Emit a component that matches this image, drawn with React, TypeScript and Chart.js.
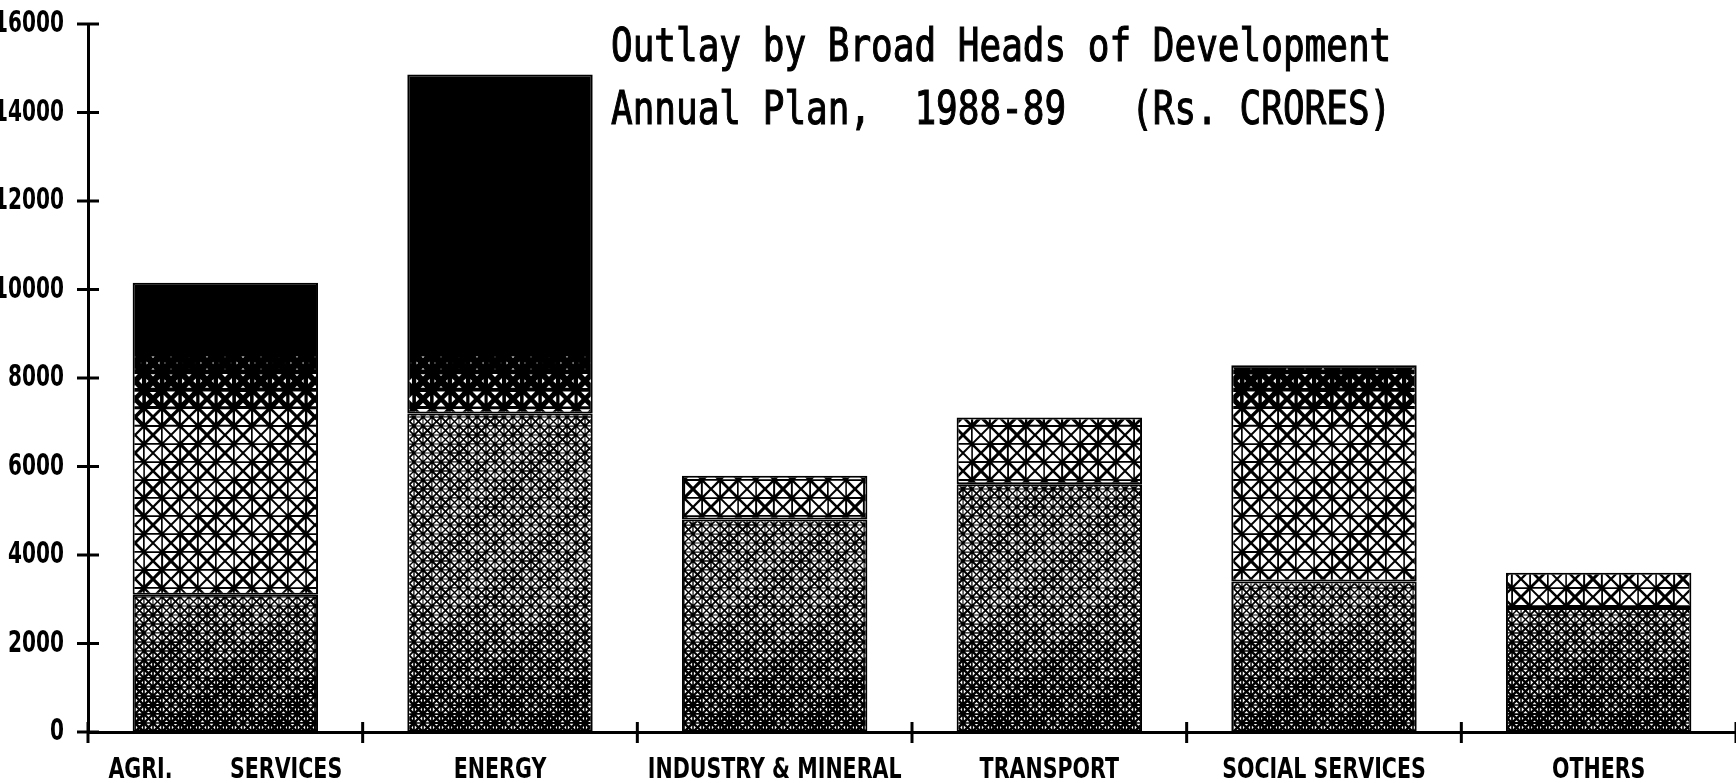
import React, { useEffect, useRef } from "react";
import { Chart, registerables } from "chart.js";

Chart.register(...registerables);

const categories = [
  "AGRI.        SERVICES",
  "ENERGY",
  "INDUSTRY & MINERAL",
  "TRANSPORT",
  "SOCIAL SERVICES",
  "OTHERS",
];
// lower (finer-pattern) part of each bar and upper (coarse lattice) part, Rs. crores
const lowerPart = [3100, 7200, 4800, 5600, 3400, 2800];
const upperPart = [7050, 7660, 990, 1510, 4890, 800];
const yTickValues = [0, 2000, 4000, 6000, 8000, 10000, 12000, 14000, 16000];
const yTickLabels = ["0", "2000", "4000", "6000", "8000", "10000", "12000", "14000", "16000"];
const titleLines = [
  "Outlay by Broad Heads of Development",
  "Annual Plan,  1988-89   (Rs. CRORES)",
];

const LABEL_FONT = '"DejaVu Sans", "Liberation Sans", sans-serif';
const TITLE_FONT = '"DejaVu Sans Mono", "Liberation Mono", monospace';

function holeLower(v: number): number {
  if (v > 3000) return 0.62;
  if (v > 1500) return 0.5 + 0.12 * (v - 1500) / 1500;
  return 0.38 + 0.12 * Math.max(0, v) / 1500;
}
function holeUpper(v: number): number {
  if (v > 8800) return 0;
  if (v > 7000) return 0.7 * Math.pow((8800 - v) / 1800, 1.4);
  return 0.7;
}

const cache: Record<string, { key: string; pattern: any }> = {};

function drawCell(g: CanvasRenderingContext2D, x0: number, y0: number, C: number, s: number) {
  const M = [x0 + C / 2, y0 + C / 2];
  const corners = [
    [x0, y0],
    [x0 + C, y0],
    [x0 + C, y0 + C],
    [x0, y0 + C],
  ];
  for (let k = 0; k < 4; k++) {
    const a = corners[k];
    const b = corners[(k + 1) % 4];
    const gx = (a[0] + b[0] + M[0]) / 3;
    const gy = (a[1] + b[1] + M[1]) / 3;
    g.beginPath();
    [a, b, M].forEach((p, i) => {
      const px = gx + (p[0] - gx) * s;
      const py = gy + (p[1] - gy) * s;
      if (i === 0) g.moveTo(px, py);
      else g.lineTo(px, py);
    });
    g.closePath();
    g.fill();
  }
}

function barPattern(chart: any, kind: "lower" | "upper"): any {
  const area = chart.chartArea;
  const ys = chart.scales && chart.scales.y;
  if (!area || !ys) return "#111";
  const W = Math.max(1, Math.round(chart.width));
  const H = Math.max(1, Math.round(chart.height));
  const key = `${W}x${H}:${area.top}:${area.bottom}`;
  const entry = cache[kind];
  if (entry && entry.key === key && entry.pattern) return entry.pattern;
  const c = document.createElement("canvas");
  c.width = W;
  c.height = H;
  const g = c.getContext("2d")!;
  g.fillStyle = "#000";
  g.fillRect(0, 0, W, H);
  g.fillStyle = "#fff";
  const C = 18;
  let row = 0;
  for (let y0 = area.bottom - C; y0 > -C; y0 -= C, row++) {
    const v = ys.getValueForPixel(y0 + C / 2);
    let col = 0;
    for (let x0 = 0; x0 < W; x0 += C, col++) {
      const jitter = (((row * 7 + col * 13) % 5) - 2) * 0.035;
      let s = kind === "lower" ? holeLower(v) : holeUpper(v);
      if (s <= 0.02) continue;
      s = Math.max(0, Math.min(0.8, s + jitter));
      if (kind === "lower") {
        const h = C / 2;
        drawCell(g, x0, y0, h, s);
        drawCell(g, x0 + h, y0, h, s * 0.9);
        drawCell(g, x0, y0 + h, h, s * 0.95);
        drawCell(g, x0 + h, y0 + h, h, s);
      } else {
        drawCell(g, x0, y0, C, s);
      }
    }
  }
  const p = chart.ctx.createPattern(c, "no-repeat");
  cache[kind] = { key, pattern: p || "#111" };
  return cache[kind].pattern;
}

const axisDecorPlugin = {
  id: "axisDecor",
  afterDraw(chart: any) {
    const { ctx, scales } = chart;
    const x = scales.x;
    const y = scales.y;
    ctx.save();
    ctx.strokeStyle = "#000";
    ctx.fillStyle = "#000";
    ctx.lineWidth = 3;
    const ax = chart.chartArea.left;
    ctx.font = `bold 30px ${LABEL_FONT}`;
    ctx.textAlign = "right";
    ctx.textBaseline = "alphabetic";
    yTickValues.forEach((val, i) => {
      const py = y.getPixelForValue(val);
      ctx.beginPath();
      ctx.moveTo(ax - 11, py);
      ctx.lineTo(ax + 11, py);
      ctx.stroke();
      ctx.save();
      ctx.translate(64, py + 8);
      ctx.scale(0.67, 1);
      ctx.fillText(yTickLabels[i], 0, 0);
      ctx.restore();
    });
    const n = categories.length;
    const base = y.getPixelForValue(0);
    for (let i = 0; i <= n; i++) {
      const px = x.left + (i * (x.right - x.left)) / n;
      ctx.beginPath();
      ctx.moveTo(px, base - 10);
      ctx.lineTo(px, base + 11);
      ctx.stroke();
    }
    ctx.font = `bold 29px ${LABEL_FONT}`;
    ctx.textAlign = "center";
    categories.forEach((lab, i) => {
      const px = x.getPixelForValue(i);
      ctx.save();
      ctx.translate(px, base + 46);
      ctx.scale(0.71, 1);
      ctx.fillText(lab, 0, 0);
      ctx.restore();
    });
    ctx.restore();
  },
};

const titlePlugin = {
  id: "stretchedTitle",
  afterDraw(chart: any) {
    const ctx = chart.ctx;
    ctx.save();
    ctx.fillStyle = "#000";
    ctx.strokeStyle = "#000";
    ctx.lineWidth = 0.9;
    ctx.font = `36px ${TITLE_FONT}`;
    ctx.textAlign = "left";
    ctx.textBaseline = "alphabetic";
    const baselines = [61, 124];
    titleLines.forEach((line, i) => {
      ctx.save();
      ctx.translate(611, baselines[i]);
      ctx.scale(1, 1.27);
      ctx.fillText(line, 0, 0);
      ctx.strokeText(line, 0, 0);
      ctx.restore();
    });
    ctx.restore();
  },
};

export default function App() {
  const ref = useRef<HTMLCanvasElement | null>(null);
  useEffect(() => {
    if (!ref.current) return;
    const common = {
      borderColor: "#000",
      borderWidth: 2,
      borderSkipped: false,
      barPercentage: 0.675,
      categoryPercentage: 1,
    };
    const chart = new Chart(ref.current, {
      type: "bar",
      data: {
        labels: categories,
        datasets: [
          {
            label: "Lower",
            data: lowerPart,
            backgroundColor: (ctx: any) => barPattern(ctx.chart, "lower"),
            ...common,
          },
          {
            label: "Upper",
            data: upperPart,
            backgroundColor: (ctx: any) => barPattern(ctx.chart, "upper"),
            ...common,
          },
        ],
      },
      options: {
        animation: false,
        responsive: true,
        maintainAspectRatio: false,
        layout: { padding: { top: 24, right: 0, bottom: 0, left: 0 } },
        plugins: {
          legend: { display: false },
          title: { display: false },
          tooltip: { enabled: false },
        },
        scales: {
          x: {
            stacked: true,
            offset: true,
            grid: { display: false, drawTicks: false },
            border: { display: true, color: "#000", width: 3 },
            ticks: { display: false },
            afterFit(scale: any) {
              scale.height = 51;
            },
          },
          y: {
            stacked: true,
            min: 0,
            max: 16000,
            grid: { display: false, drawTicks: false },
            border: { display: true, color: "#000", width: 3 },
            afterBuildTicks(scale: any) {
              scale.ticks = yTickValues.map((v) => ({ value: v }));
            },
            ticks: { display: false },
            afterFit(scale: any) {
              scale.width = 88;
            },
          },
        },
      },
      plugins: [axisDecorPlugin, titlePlugin],
    });
    return () => chart.destroy();
  }, []);
  return (
    <div style={{ position: "fixed", left: 0, top: 0, width: 1736, height: 783, background: "#fff" }}>
      <canvas ref={ref} />
    </div>
  );
}
